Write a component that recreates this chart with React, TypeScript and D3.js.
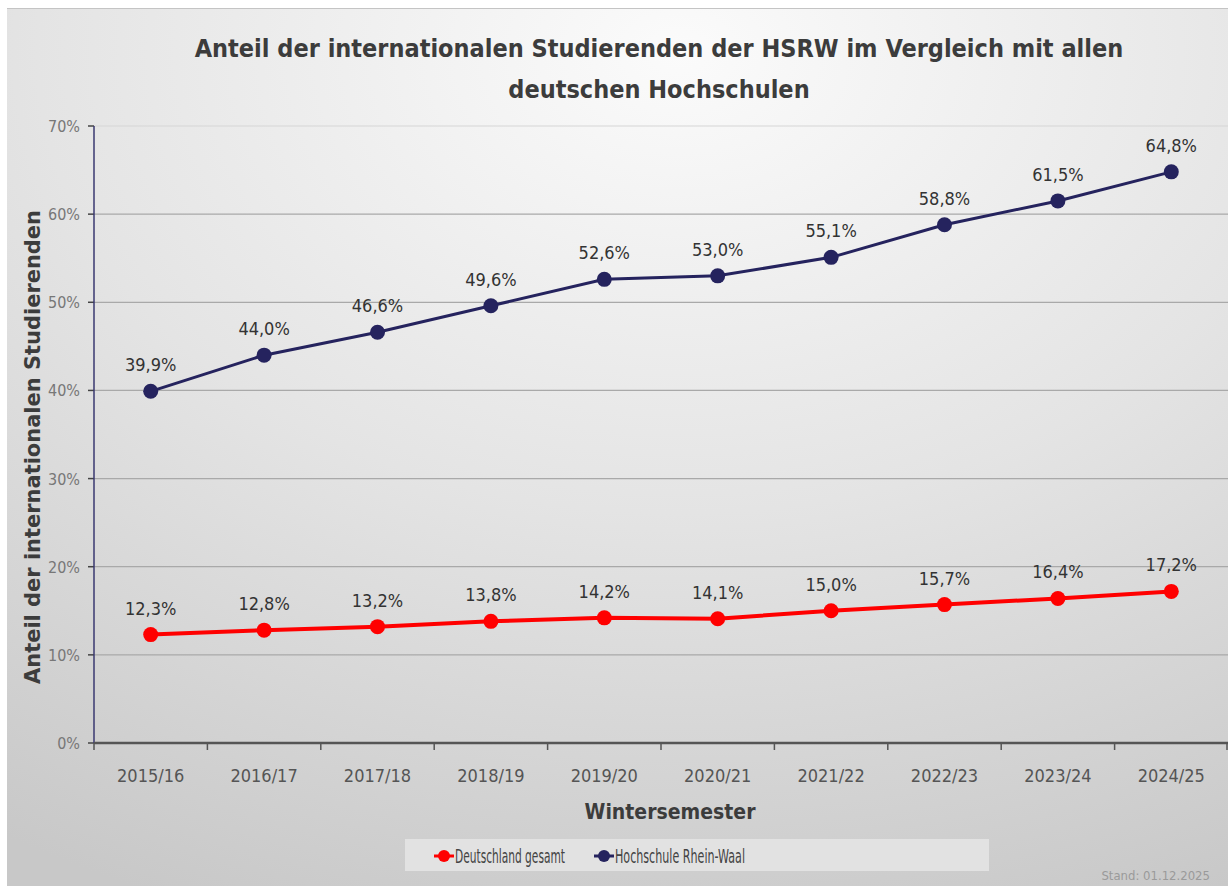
import React from 'react'
import * as d3 from 'd3'

const semesters = ['2015/16', '2016/17', '2017/18', '2018/19', '2019/20', '2020/21', '2021/22', '2022/23', '2023/24', '2024/25']
const deutschland = [12.3, 12.8, 13.2, 13.8, 14.2, 14.1, 15.0, 15.7, 16.4, 17.2]
const hsrw = [39.9, 44.0, 46.6, 49.6, 52.6, 53.0, 55.1, 58.8, 61.5, 64.8]
const yTicks = [0, 10, 20, 30, 40, 50, 60, 70]

const W = 1228
const H = 886
const margin = { top: 126, right: 0, bottom: 143, left: 94 }
const FONT = "'DejaVu Sans Condensed', 'Roboto', sans-serif"
const RED = '#ff0000'
const NAVY = '#25235e'

const fmt = (v: number) => v.toFixed(1).replace('.', ',') + '%'

export default function App() {
  const x = d3.scaleBand<string>()
    .domain(semesters)
    .range([margin.left, W - margin.right])
  const y = d3.scaleLinear()
    .domain([0, 70])
    .range([H - margin.bottom, margin.top])

  const cx = (s: string) => (x(s) ?? 0) + x.bandwidth() / 2
  const line = d3.line<number>()
    .x((_, i) => cx(semesters[i]))
    .y((d) => y(d))

  const series = [
    { name: 'Hochschule Rhein-Waal', values: hsrw, color: NAVY, width: 3 },
    { name: 'Deutschland gesamt', values: deutschland, color: RED, width: 4 },
  ]

  // legend text is a narrow DIN face in the original, squeeze horizontally
  const sx = 0.66
  const legend = [
    { label: 'Deutschland gesamt', color: RED, lx: 434, tw: 110 },
    { label: 'Hochschule Rhein-Waal', color: NAVY, lx: 594, tw: 130 },
  ]

  return (
    <svg width={W} height={H} style={{ display: 'block', position: 'absolute', left: 0, top: 0 }} fontFamily={FONT}>
      <defs>
        <radialGradient id="bg" cx="0.55" cy="0.05" r="1.05">
          <stop offset="0" stopColor="#fbfbfb" />
          <stop offset="0.5" stopColor="#e4e4e4" />
          <stop offset="1" stopColor="#c8c8c8" />
        </radialGradient>
      </defs>
      <rect x={0} y={0} width={W} height={H} fill="#ffffff" />
      <rect x={7} y={8} width={W - 7} height={H - 8} fill="url(#bg)" />
      <line x1={7} x2={W} y1={8.5} y2={8.5} stroke="#c4c4c4" />

      {/* title */}
      <text x={659} y={57} textAnchor="middle" fontSize={25} fontWeight="bold" fill="#3c3c3c">
        Anteil der internationalen Studierenden der HSRW im Vergleich mit allen
      </text>
      <text x={659} y={98} textAnchor="middle" fontSize={25} fontWeight="bold" fill="#3c3c3c">
        deutschen Hochschulen
      </text>

      {/* grid + y axis */}
      {yTicks.map((t) => (
        <g key={t}>
          {t > 0 && (
            <line x1={margin.left} x2={W - margin.right} y1={y(t)} y2={y(t)} stroke={t === 70 ? '#d6d6d6' : '#a9a9a9'} strokeWidth={1.2} />
          )}
          <line x1={margin.left - 6} x2={margin.left} y1={y(t)} y2={y(t)} stroke="#444" strokeWidth={1.5} />
          <text x={margin.left - 14} y={y(t) + 6} textAnchor="end" fontSize={16} fill="#777">
            {t}%
          </text>
        </g>
      ))}
      <line x1={margin.left} x2={margin.left} y1={y(70)} y2={y(0)} stroke="#3a3870" strokeWidth={1.5} />

      {/* x axis */}
      <line x1={margin.left} x2={W} y1={y(0)} y2={y(0)} stroke="#555" strokeWidth={2.5} />
      {semesters.map((s, i) => (
        <g key={s}>
          <line x1={(x(s) ?? 0)} x2={(x(s) ?? 0)} y1={y(0)} y2={y(0) + 7} stroke="#555" strokeWidth={1.5} />
          {i === semesters.length - 1 && (
            <line x1={W - 1} x2={W - 1} y1={y(0)} y2={y(0) + 7} stroke="#555" strokeWidth={1.5} />
          )}
          <text x={cx(s)} y={y(0) + 39} textAnchor="middle" fontSize={18} fill="#555">
            {s}
          </text>
        </g>
      ))}

      {/* axis titles */}
      <text x={670} y={819} textAnchor="middle" fontSize={21} fontWeight="bold" fill="#3c3c3c">
        Wintersemester
      </text>
      <text transform={`translate(40, 447) rotate(-90)`} textAnchor="middle" fontSize={22} fontWeight="bold" fill="#3c3c3c" textLength={474} lengthAdjust="spacingAndGlyphs">
        Anteil der internationalen Studierenden
      </text>

      {/* series */}
      {series.map((sr) => (
        <g key={sr.name}>
          <path d={line(sr.values) ?? ''} fill="none" stroke={sr.color} strokeWidth={sr.width} />
          {sr.values.map((v, i) => (
            <g key={i}>
              <circle cx={cx(semesters[i])} cy={y(v)} r={7.5} fill={sr.color} />
              <text x={cx(semesters[i])} y={y(v) - 20} textAnchor="middle" fontSize={18} fill="#333">
                {fmt(v)}
              </text>
            </g>
          ))}
        </g>
      ))}

      {/* legend */}
      <rect x={405} y={839} width={584} height={32} fill="#e2e2e2" />
      {legend.map((l) => (
        <g key={l.label}>
          <line x1={l.lx} x2={l.lx + 20} y1={856} y2={856} stroke={l.color} strokeWidth={3} />
          <circle cx={l.lx + 10} cy={856} r={6} fill={l.color} />
          <g transform={`translate(${l.lx + 21}, 863) scale(${sx}, 1)`}>
            <text x={0} y={0} fontSize={20} fill="#444" textLength={l.tw / sx} lengthAdjust="spacingAndGlyphs">
              {l.label}
            </text>
          </g>
        </g>
      ))}
      <text x={1210} y={880} textAnchor="end" fontSize={13} fill="#9a9a9a">
        Stand: 01.12.2025
      </text>
    </svg>
  )
}
